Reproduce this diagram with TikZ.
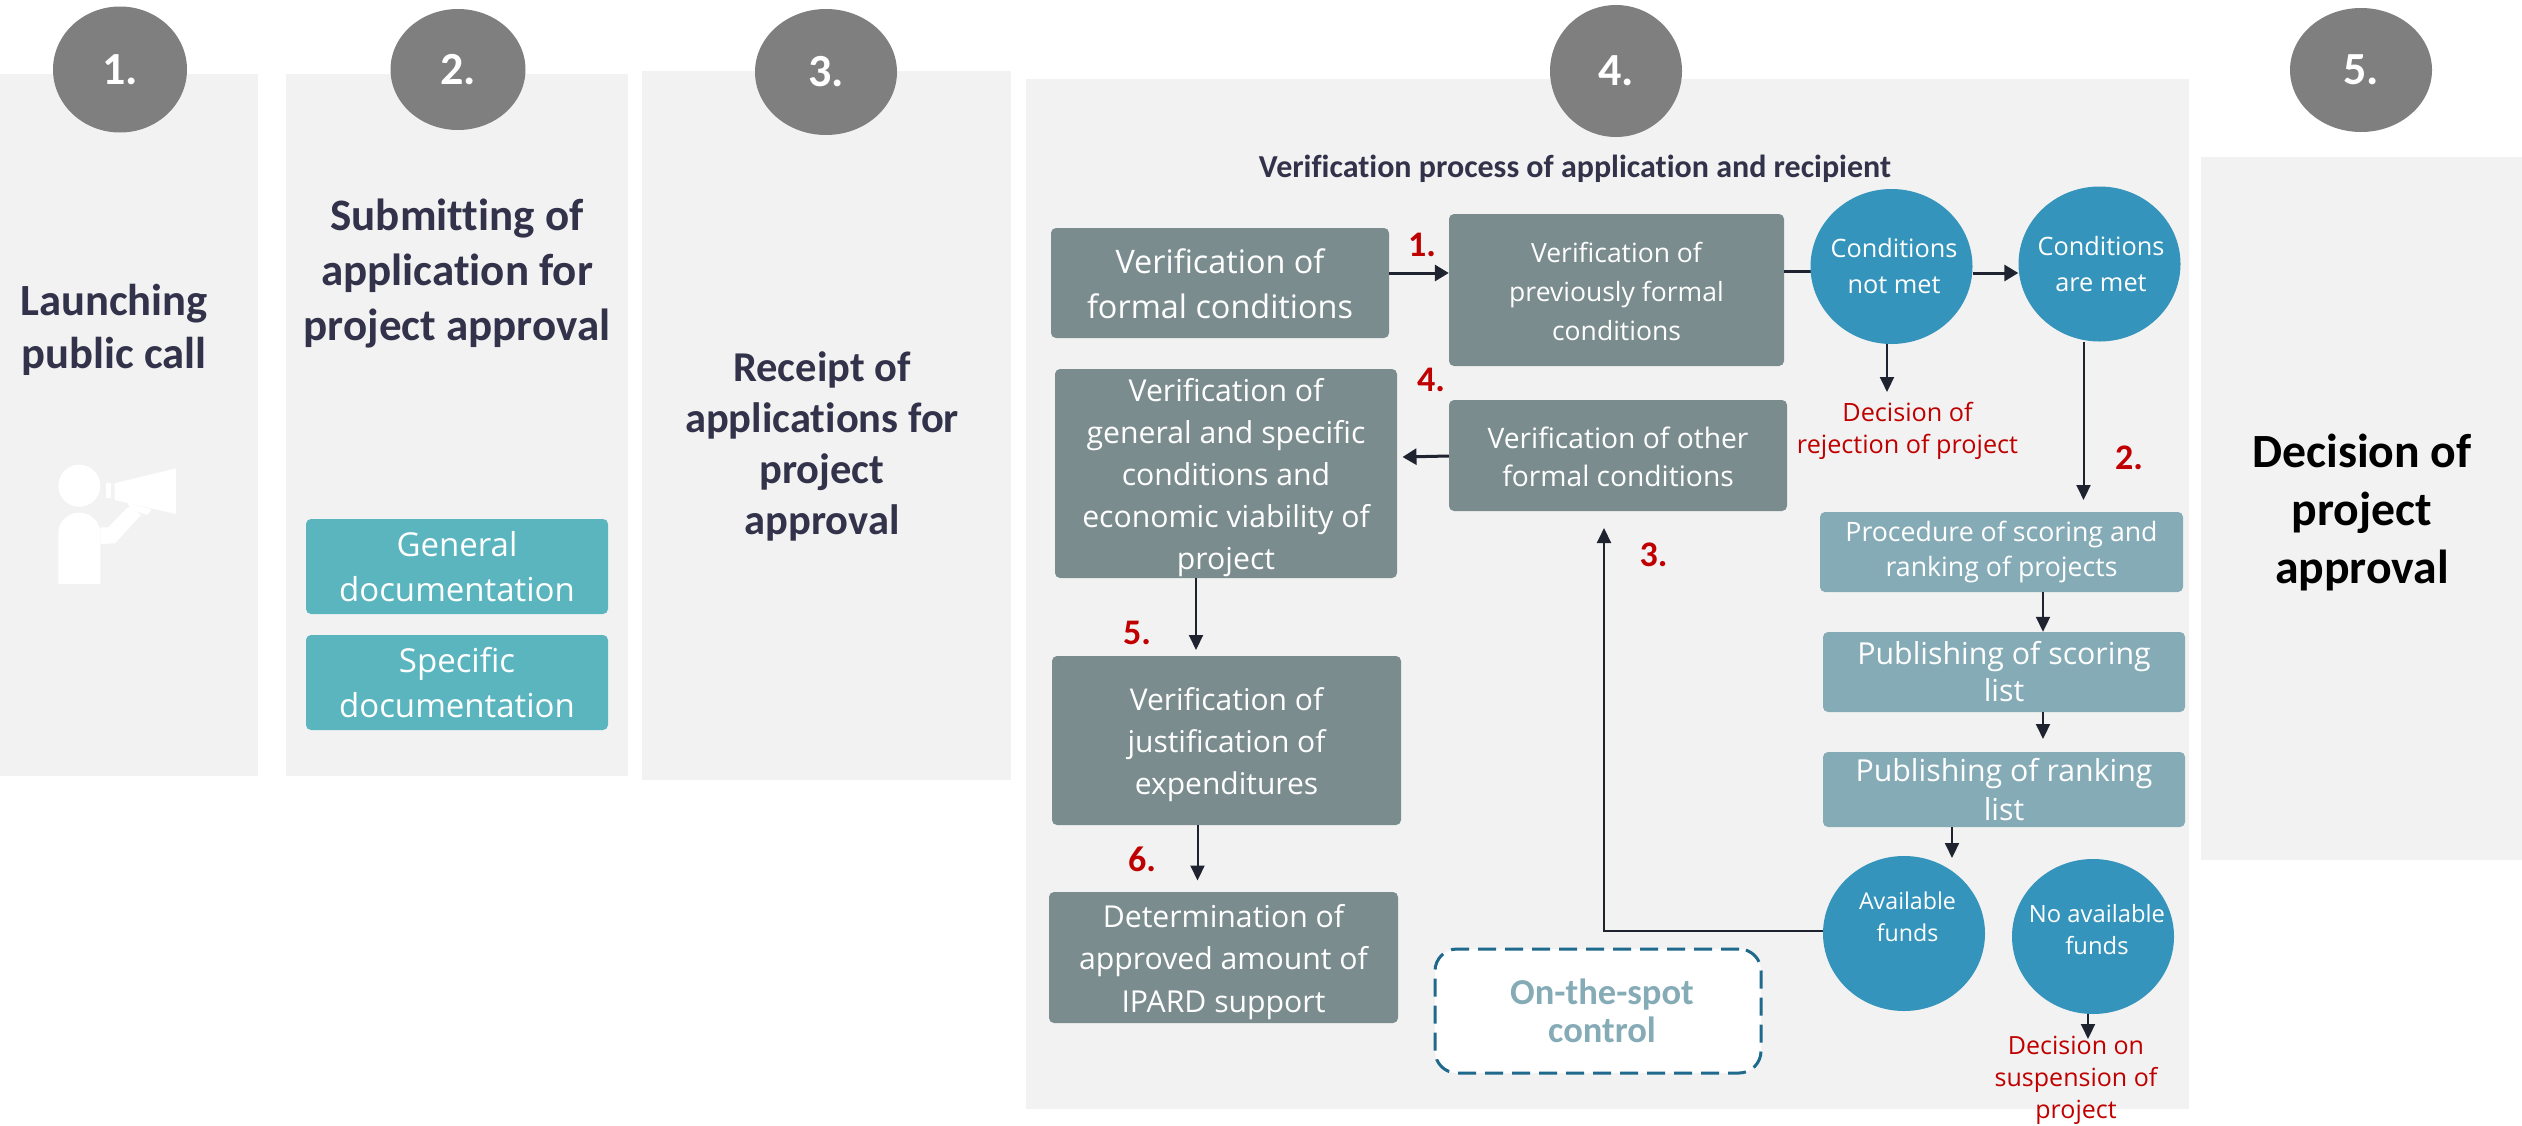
\documentclass[tikz,border=0pt]{standalone}
\usepackage{fontspec}
\setmainfont[Ligatures=NoCommon]{Open Sans}
\newfontfamily\carl[Ligatures=NoCommon]{Carlito}
\usetikzlibrary{arrows.meta,shapes.geometric}
\definecolor{panelc}{HTML}{F2F2F2}
\definecolor{discc}{HTML}{7F7F7F}
\definecolor{boxc}{HTML}{7B8C8E}
\definecolor{bluec}{HTML}{3494BC}
\definecolor{lightc}{HTML}{85ABB7}
\definecolor{tealc}{HTML}{5AB5BF}
\definecolor{redc}{HTML}{C00000}
\definecolor{navyc}{HTML}{32324A}
\definecolor{dashc}{HTML}{1F6A8C}
\definecolor{linec}{HTML}{1F2330}
\tikzset{
  panel/.style={fill=panelc,draw=none},
  disc/.style={ellipse,fill=discc,inner sep=0pt,text=white,font=\carl\bfseries\fontsize{46}{50}\selectfont},
  rbox/.style={rectangle,rounded corners=5pt,inner sep=0pt,align=center,text=white},
  graybox/.style={rbox,fill=boxc},
  lightbox/.style={rbox,fill=lightc},
  tealbox/.style={rbox,fill=tealc},
  circ/.style={ellipse,fill=bluec,inner sep=0pt,minimum width=162pt,minimum height=155pt},
  ctext/.style={align=center,text=white,inner sep=0pt},
  head/.style={align=center,text=navyc,inner sep=0pt},
  redt/.style={align=center,text=redc,inner sep=0pt},
  num/.style={text=redc,inner sep=0pt,font=\carl\bfseries\fontsize{36}{40}\selectfont},
  arr/.style={draw=linec,line width=2pt,-{Triangle[length=15pt,width=14pt,fill=linec]}},
  harr/.style={draw=linec,line width=3pt,-{Triangle[length=14pt,width=16pt,fill=linec]}}
}
\begin{document}
\begin{tikzpicture}[x=1pt,y=-1pt]
\useasboundingbox (0,0) rectangle (2522,1125);
% panels
\fill[panel] (0,74) rectangle (258,776);
\fill[panel] (286,74) rectangle (628,776);
\fill[panel] (642,71) rectangle (1011,780);
\fill[panel] (1026,79) rectangle (2189,1109);
\fill[panel] (2201,157) rectangle (2522,860);
% numbered discs
\node[disc,minimum width=134pt,minimum height=126pt] (d1) at (120,69.5) {1.};
\node[disc,minimum width=135pt,minimum height=121pt] (d2) at (458,69.5) {2.};
\node[disc,minimum width=142pt,minimum height=126pt] (d3) at (826,72) {3.};
\node[disc,minimum width=132pt,minimum height=132pt] (d4) at (1616,71) {4.};
\node[disc,minimum width=142pt,minimum height=124pt] (d5) at (2361,70) {5.};
% headings
\node[head,font=\carl\bfseries\fontsize{44.6}{52.5}\selectfont] (h1) at (114,330) {Launching\\public call};
\node[head,font=\carl\bfseries\fontsize{45}{55}\selectfont] (h2) at (457,274) {Submitting of\\application for\\project approval};
\node[head,font=\carl\bfseries\fontsize{42.5}{51}\selectfont] (h3) at (822,446) {Receipt of\\applications for\\project\\approval};
\node[align=center,text=black,inner sep=0pt,font=\carl\bfseries\fontsize{47.7}{58}\selectfont] (h5) at (2362,513) {Decision of\\project\\approval};
\node[head,font=\carl\bfseries\fontsize{32}{36}\selectfont] (h4) at (1575,169) {Verification process of application and recipient};
% icon
\fill[white] (79.3,485.7) circle (21);
\fill[white] (58.3,584) -- (58.3,533) arc[start angle=180,end angle=360,x radius=21,y radius=20.3] -- (100.3,584) -- cycle;
\fill[white] (100.3,527.3) -- (108.3,527.3) -- (128.3,506.7) -- (141,515) -- (115,543.3) -- (100.3,544) -- cycle;
\fill[white] (114.7,483.3) -- (176,468.3) -- (176,514) -- (114.7,500) -- cycle;
\fill[white] (106,483.3) rectangle (111.3,498.3);
\fill[white] (127.3,502.7) -- (151.7,509.3) -- (147.3,515) -- (131.7,510) -- cycle;
% documentation
\node[tealbox,font=\fontsize{33}{45}\selectfont,minimum width=302pt,minimum height=95pt] (gd) at (457,566.5) {General\\documentation};
\node[tealbox,font=\fontsize{33}{45}\selectfont,minimum width=302pt,minimum height=95pt] (sd) at (457,682.5) {Specific\\documentation};
% boxes
\node[graybox,minimum width=338pt,minimum height=110pt] (A) at (1220,283) {};
\node[ctext,font=\fontsize{32.4}{45}\selectfont] (tA) at (1220,283.5) {Verification of\\formal conditions};
\node[graybox,minimum width=335pt,minimum height=152pt] (B) at (1616.5,290) {};
\node[ctext,font=\fontsize{26.5}{39}\selectfont] (tB) at (1616.5,291) {Verification of\\previously formal\\conditions};
\node[graybox,minimum width=342pt,minimum height=209pt] (C) at (1226,473.5) {};
\node[ctext,font=\fontsize{30.2}{42}\selectfont] (tC) at (1226,478) {Verification of\\general and specific\\conditions and\\economic viability of\\project};
\node[graybox,minimum width=338pt,minimum height=111pt] (D) at (1618,455.5) {};
\node[ctext,font=\fontsize{28.2}{38}\selectfont] (tD) at (1618,457) {Verification of other\\formal conditions};
\node[graybox,minimum width=349pt,minimum height=169pt] (H) at (1226.5,740.5) {};
\node[ctext,font=\fontsize{30}{42}\selectfont] (tH) at (1226.5,745) {Verification of\\justification of\\expenditures};
\node[graybox,minimum width=349pt,minimum height=131pt] (I) at (1223.5,957.5) {};
\node[ctext,font=\fontsize{30.2}{42.5}\selectfont] (tI) at (1223.5,962) {Determination of\\approved amount of\\IPARD support};
\node[lightbox,font=\fontsize{26.7}{35}\selectfont,minimum width=363pt,minimum height=80pt] (E) at (2001.5,552) {Procedure of scoring and\\ranking of projects};
\node[lightbox,font=\fontsize{30.3}{37}\selectfont,minimum width=362pt,minimum height=80pt] (F) at (2004,672) {Publishing of scoring\\list};
\node[lightbox,font=\fontsize{30.3}{38.5}\selectfont,minimum width=362pt,minimum height=75pt] (G) at (2004,789.5) {Publishing of ranking\\list};
% connector under the circle
\draw[draw=linec,line width=3pt] (B.east |- 0,271) -- (1830,271);
% circles
\node[circ] (notmet) at (1891.5,266.5) {};
\node[circ] (met) at (2099.5,264) {};
\node[circ] (avail) at (1904,933.5) {};
\node[circ] (noavail) at (2093,936.5) {};
\node[ctext,font=\fontsize{25.3}{36}\selectfont] (tnm) at (1894,266) {Conditions\\not met};
\node[ctext,font=\fontsize{25.3}{36}\selectfont] (tm) at (2101,264) {Conditions\\are met};
\node[ctext,font=\fontsize{23.2}{32}\selectfont] (ta) at (1907.5,917) {Available\\funds};
\node[ctext,font=\fontsize{23.8}{32}\selectfont] (tn) at (2097,930) {No available\\funds};
% red outcomes
\node[redt,font=\fontsize{25.2}{32}\selectfont] (rej) at (1907.5,431) {Decision of\\rejection of project};
\node[redt,font=\fontsize{25}{32}\selectfont] (sus) at (2076,1080) {Decision on\\suspension of\\project};
% on-the-spot
\node[rectangle,rounded corners=22pt,fill=white,draw=dashc,line width=3pt,dash pattern=on 18pt off 9pt,minimum width=326pt,minimum height=124pt,inner sep=0pt] (spot) at (1598,1011) {};
\node[align=center,inner sep=0pt,text=lightc,font=\carl\bfseries\fontsize{36.5}{38.5}\selectfont] (tspot) at (1602,1011) {On-the-spot\\control};
% connectors
\draw[harr] (A.east |- 0,273) -- (B.west |- 0,273);
\draw[harr] (notmet.east |- 0,273) -- (met.west |- 0,273);
\draw[arr] (notmet.south -| 1887,0) -- (1887,392);
\draw[arr] (met.south -| 2083.5,0) -- (2083.5,500);
\draw[harr] (D.west |- 0,456) -- (1402.5,457);
\draw[arr] (E.south -| 2043,0) -- (F.north -| 2043,0);
\draw[arr] (F.south -| 2043,0) -- (2043,739);
\draw[arr] (G.south -| 1952,0) -- (1952,858);
\draw[arr] (noavail.south -| 2088,0) -- (2088,1039);
\draw[arr] (C.south -| 1196,0) -- (1196,650);
\draw[arr] (H.south -| 1197.5,0) -- (1197.5,880.5);
\draw[arr] (avail.west |- 0,931) -- (1604,931) -- (1604,528);
% numbers
\node[num] (n1) at (1422,245) {1.};
\node[num] (n2) at (2129,458) {2.};
\node[num] (n3) at (1653.5,555) {3.};
\node[num] (n4) at (1431,380) {4.};
\node[num] (n5) at (1137,633) {5.};
\node[num] (n6) at (1142,859) {6.};
\end{tikzpicture}
\end{document}
